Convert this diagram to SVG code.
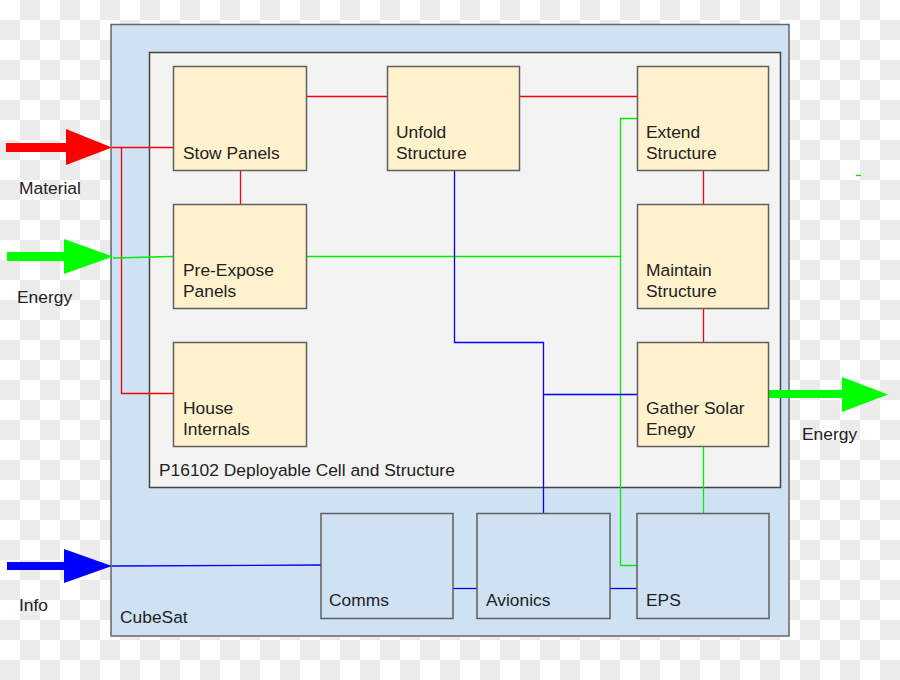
<svg xmlns="http://www.w3.org/2000/svg" width="900" height="680" viewBox="0 0 900 680">
<defs>
<pattern id="checker" x="0" y="0" width="40" height="40" patternUnits="userSpaceOnUse">
<rect width="40" height="40" fill="#ffffff"/>
<rect x="20" y="0" width="20" height="20" fill="#ececec"/>
<rect x="0" y="20" width="20" height="20" fill="#ececec"/>
</pattern>
<style>
text{font-family:"Liberation Sans",Arial,sans-serif;font-size:17.4px;fill:#222}
.box{fill:#fff2cc;stroke:#5f5f5f;stroke-width:1.5}
.sub{fill:#cfe2f3;stroke:#5f5f5f;stroke-width:1.5}
.r{stroke:#ff0000;stroke-width:1.3;fill:none}
.g{stroke:#00ee00;stroke-width:1.3;fill:none}
.b{stroke:#0000ff;stroke-width:1.3;fill:none}
</style>
</defs>
<rect width="900" height="680" fill="url(#checker)"/>

<g id="cubesat">
<rect x="111" y="24.5" width="678" height="611.5" fill="#cfe2f3" stroke="#666" stroke-width="1.5"/>
<text x="120" y="623">CubeSat</text>
</g>
<g id="p16102">
<rect x="149.5" y="52.5" width="631" height="435" fill="#f3f3f3" stroke="#444" stroke-width="1.5"/>
<text x="159" y="476">P16102 Deployable Cell and Structure</text>
</g>

<g id="connectors">
<polyline class="r" points="112,147.5 173,147.5"/>
<polyline class="r" points="121.5,147.5 121.5,393.5 173,393.5"/>
<polyline class="r" points="306,96.5 387,96.5"/>
<polyline class="r" points="520,96.5 637,96.5"/>
<polyline class="r" points="240.5,170 240.5,204"/>
<polyline class="r" points="703.5,170 703.5,204"/>
<polyline class="r" points="703.5,308 703.5,343"/>
<polyline class="g" points="113,258 173,256.5"/>
<polyline class="g" points="306,256.5 620.5,256.5"/>
<polyline class="g" points="637,118.5 620.5,118.5 620.5,565.5 637,565.5"/>
<polyline class="g" points="703.5,447 703.5,513"/>
<polyline class="g" points="856,175.5 861,175.5"/>
<polyline class="b" points="112,566 321,565"/>
<polyline class="b" points="454.5,171 454.5,342.5 543.5,342.5 543.5,513"/>
<polyline class="b" points="543.5,394.5 637,394.5"/>
<polyline class="b" points="453,588.5 477,588.5"/>
<polyline class="b" points="610,588.5 637,588.5"/>
</g>

<g id="arrow-material">
<rect x="6" y="143" width="61" height="9" fill="#ff0000"/>
<polygon points="66,129 112,147.5 66,165" fill="#ff0000"/>
<text x="19" y="194">Material</text>
</g>
<g id="arrow-energy-in">
<rect x="7" y="252" width="58" height="9" fill="#00ff00"/>
<polygon points="64,239 113,256.5 64,274" fill="#00ff00"/>
<text x="17" y="303">Energy</text>
</g>
<g id="arrow-info">
<rect x="7" y="562" width="58" height="8" fill="#0000ff"/>
<polygon points="64,549 112,566 64,583" fill="#0000ff"/>
<text x="19" y="611">Info</text>
</g>
<g id="arrow-energy-out">
<rect x="769" y="390" width="74" height="8" fill="#00ff00"/>
<polygon points="842,377 888,394.5 842,412" fill="#00ff00"/>
<text x="802" y="440">Energy</text>
</g>

<g id="stow-panels">
<rect class="box" x="173.5" y="66.5" width="133" height="104"/>
<text x="183" y="159">Stow Panels</text>
</g>
<g id="pre-expose-panels">
<rect class="box" x="173.5" y="204.5" width="133" height="104"/>
<text x="183" y="276">Pre-Expose</text>
<text x="183" y="297">Panels</text>
</g>
<g id="house-internals">
<rect class="box" x="173.5" y="342.5" width="133" height="104"/>
<text x="183" y="414">House</text>
<text x="183" y="435">Internals</text>
</g>
<g id="unfold-structure">
<rect class="box" x="387.5" y="66.5" width="132" height="104"/>
<text x="396" y="138">Unfold</text>
<text x="396" y="159">Structure</text>
</g>
<g id="extend-structure">
<rect class="box" x="637.5" y="66.5" width="131" height="104"/>
<text x="646" y="138">Extend</text>
<text x="646" y="159">Structure</text>
</g>
<g id="maintain-structure">
<rect class="box" x="637.5" y="204.5" width="131" height="104"/>
<text x="646" y="276">Maintain</text>
<text x="646" y="297">Structure</text>
</g>
<g id="gather-solar-energy">
<rect class="box" x="637.5" y="342.5" width="131" height="104"/>
<text x="646" y="414">Gather Solar</text>
<text x="646" y="435">Enegy</text>
</g>
<g id="comms">
<rect class="sub" x="321" y="513.5" width="132" height="105"/>
<text x="329" y="606">Comms</text>
</g>
<g id="avionics">
<rect class="sub" x="477" y="513.5" width="133" height="105"/>
<text x="486" y="606">Avionics</text>
</g>
<g id="eps">
<rect class="sub" x="637" y="513.5" width="132" height="105"/>
<text x="646" y="606">EPS</text>
</g>
</svg>
